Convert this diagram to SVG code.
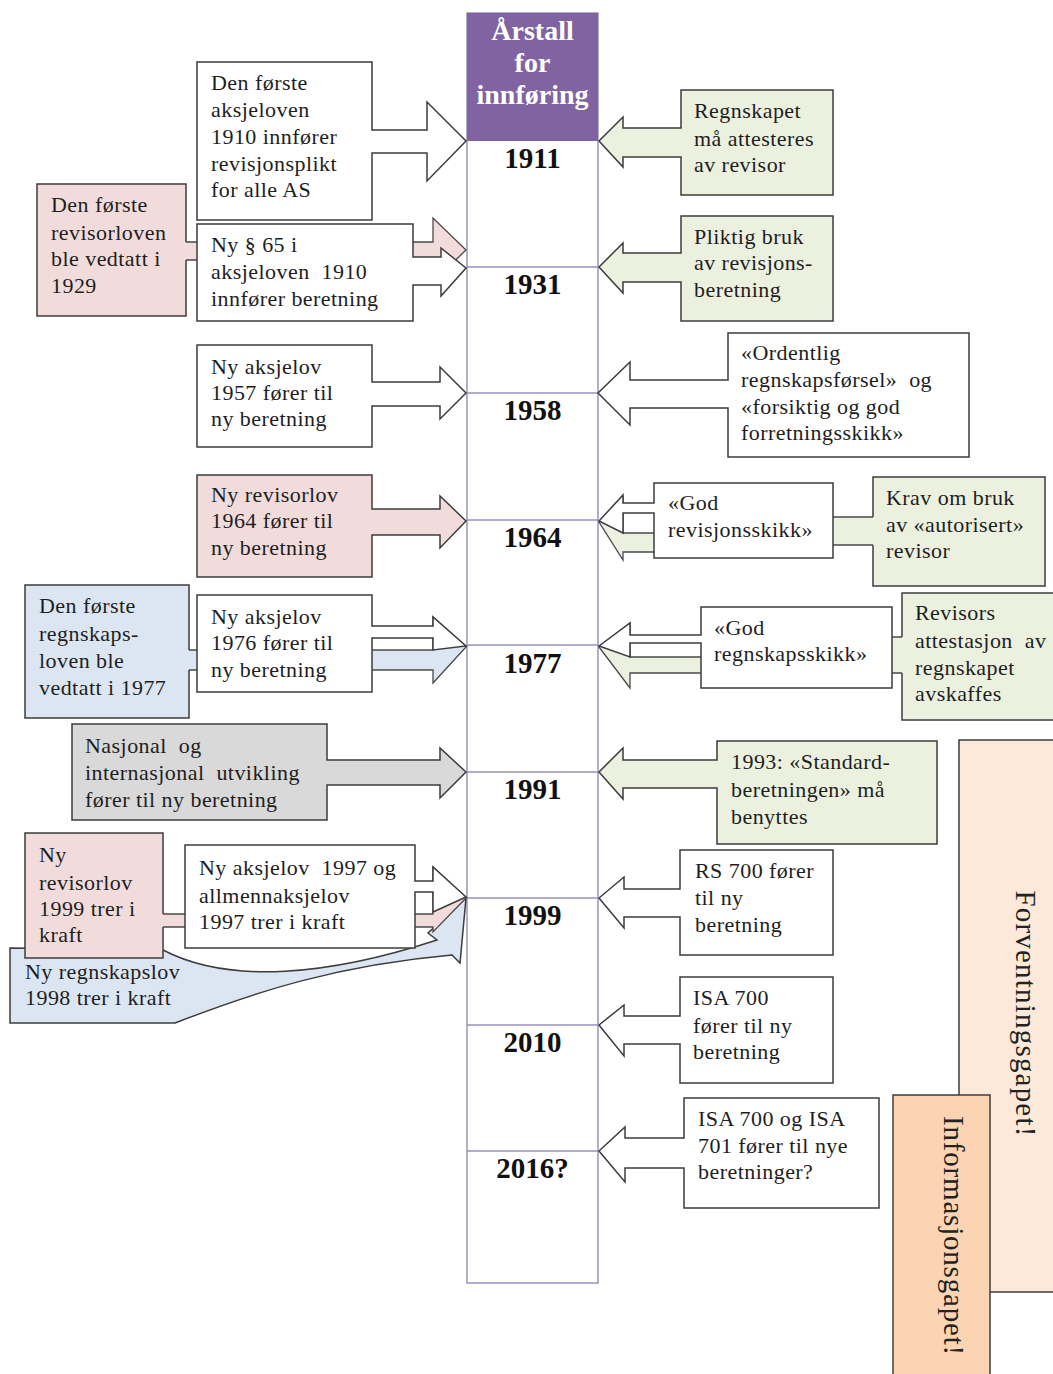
<svg xmlns="http://www.w3.org/2000/svg" width="1053" height="1374" viewBox="0 0 1053 1374">
<style>
text{font-family:"Liberation Serif","Times New Roman",serif;}
.t{font-size:22px;letter-spacing:0.45px;fill:#1e1e1e;}
.yr{font-size:29px;font-weight:bold;fill:#111;text-anchor:middle;}
.hd{font-size:28px;font-weight:bold;fill:#ffffff;text-anchor:middle;}
.big{font-size:29px;fill:#222;}
.box{stroke:#3c3c3c;stroke-width:1.5;}
.af{stroke:none;}
.as{fill:none;stroke:#4a4a4a;stroke-width:1.3;}
.w{fill:#ffffff;}
.g{fill:#ebf1de;}
.p{fill:#f2dcdb;}
.b{fill:#dce6f2;}
.gr{fill:#d9d9d9;}
.div{stroke:#9a8fbc;stroke-width:1.3;}
</style>

<!-- Timeline -->
<g id="timeline">
<rect x="467" y="13" width="131" height="1270" fill="#ffffff" stroke="#948ab6" stroke-width="1.4"/>
<rect x="467" y="13" width="131" height="128" fill="#8064a2"/>
<text class="hd" x="532.5" y="40">Årstall</text>
<text class="hd" x="532.5" y="72">for</text>
<text class="hd" x="532.5" y="104">innføring</text>
<line class="div" x1="467" y1="267" x2="598" y2="267"/>
<line class="div" x1="467" y1="393" x2="598" y2="393"/>
<line class="div" x1="467" y1="520" x2="598" y2="520"/>
<line class="div" x1="467" y1="645" x2="598" y2="645"/>
<line class="div" x1="467" y1="772" x2="598" y2="772"/>
<line class="div" x1="467" y1="898" x2="598" y2="898"/>
<line class="div" x1="467" y1="1025" x2="598" y2="1025"/>
<line class="div" x1="467" y1="1151" x2="598" y2="1151"/>
<text class="yr" x="532.5" y="168">1911</text>
<text class="yr" x="532.5" y="294">1931</text>
<text class="yr" x="532.5" y="420">1958</text>
<text class="yr" x="532.5" y="547">1964</text>
<text class="yr" x="532.5" y="673">1977</text>
<text class="yr" x="532.5" y="799">1991</text>
<text class="yr" x="532.5" y="925">1999</text>
<text class="yr" x="532.5" y="1052">2010</text>
<text class="yr" x="532.5" y="1178">2016?</text>
</g>

<!-- Gaps -->
<g id="forventningsgapet">
<rect class="box" x="959" y="740" width="100" height="552" fill="#fde9d9"/>
<text class="big" transform="translate(1016,1014) rotate(90)" text-anchor="middle" letter-spacing="1.2">Forventningsgapet!</text>
</g>
<g id="informasjonsgapet">
<rect class="box" x="893" y="1095" width="97" height="290" fill="#fbd4b4"/>
<text class="big" transform="translate(944,1236) rotate(90)" text-anchor="middle" letter-spacing="0.8">Informasjonsgapet!</text>
</g>

<!-- Left simple callouts -->
<g id="n1910">
<path class="box w" d="M197,62 H372 V130 H427 V102 L466,141 L427,181 V153 H372 V220 H197 Z"/>
<text class="t" x="211" y="90">Den første</text>
<text class="t" x="211" y="117">aksjeloven</text>
<text class="t" x="211" y="144">1910 innfører</text>
<text class="t" x="211" y="171">revisjonsplikt</text>
<text class="t" x="211" y="197">for alle AS</text>
</g>
<g id="n1957">
<path class="box w" d="M197,345 H372 V382 H440 V367 L466,393 L440,419 V406 H372 V447 H197 Z"/>
<text class="t" x="211" y="374">Ny aksjelov</text>
<text class="t" x="211" y="400">1957 fører til</text>
<text class="t" x="211" y="426">ny beretning</text>
</g>
<g id="n1964l">
<path class="box p" d="M197,475 H372 V509 H440 V496 L466,521 L440,548 V535 H372 V577 H197 Z"/>
<text class="t" x="211" y="502">Ny revisorlov</text>
<text class="t" x="211" y="528">1964 fører til</text>
<text class="t" x="211" y="555">ny beretning</text>
</g>
<g id="n1991l">
<path class="box gr" d="M72,724 H327 V760 H440 V748 L466,772 L440,798 V785 H327 V820 H72 Z"/>
<text class="t" x="85" y="753" xml:space="preserve">Nasjonal  og</text>
<text class="t" x="85" y="780" xml:space="preserve">internasjonal  utvikling</text>
<text class="t" x="85" y="807">fører til ny beretning</text>
</g>

<!-- Right simple callouts -->
<g id="n1911r">
<path class="box g" d="M681,90 H833 V195 H681 V157 H623 V167 L599,141 L623,117 V128 H681 Z"/>
<text class="t" x="694" y="118">Regnskapet</text>
<text class="t" x="694" y="146">må attesteres</text>
<text class="t" x="694" y="172">av revisor</text>
</g>
<g id="n1931r">
<path class="box g" d="M681,216 H833 V321 H681 V282 H623 V293 L599,267 L623,243 V253 H681 Z"/>
<text class="t" x="694" y="244">Pliktig bruk</text>
<text class="t" x="694" y="270">av revisjons-</text>
<text class="t" x="694" y="297">beretning</text>
</g>
<g id="n1958r">
<path class="box w" d="M728,333 H969 V457 H728 V408 H630 V425 L598,393 L630,362 V380 H728 Z"/>
<text class="t" x="741" y="360">«Ordentlig</text>
<text class="t" x="741" y="387" xml:space="preserve">regnskapsførsel»  og</text>
<text class="t" x="741" y="414">«forsiktig og god</text>
<text class="t" x="741" y="440">forretningsskikk»</text>
</g>
<g id="n1991r">
<path class="box g" d="M717,741 H937 V844 H717 V788 H623 V799 L599,772 L623,748 V760 H717 Z"/>
<text class="t" x="731" y="769">1993: «Standard-</text>
<text class="t" x="731" y="797">beretningen» må</text>
<text class="t" x="731" y="824">benyttes</text>
</g>
<g id="n1999r">
<path class="box w" d="M680,850 H833 V955 H680 V917 H624 V928 L599,898 L624,877 V889 H680 Z"/>
<text class="t" x="695" y="878">RS 700 fører</text>
<text class="t" x="695" y="905">til ny</text>
<text class="t" x="695" y="932">beretning</text>
</g>
<g id="n2010r">
<path class="box w" d="M680,977 H833 V1083 H680 V1044 H624 V1056 L599,1025 L624,1005 V1016 H680 Z"/>
<text class="t" x="693" y="1005">ISA 700</text>
<text class="t" x="693" y="1033">fører til ny</text>
<text class="t" x="693" y="1059">beretning</text>
</g>
<g id="n2016r">
<path class="box w" d="M684,1098 H879 V1208 H684 V1168 H625 V1182 L599,1151 L625,1127 V1138 H684 Z"/>
<text class="t" x="698" y="1126">ISA 700 og ISA</text>
<text class="t" x="698" y="1153">701 fører til nye</text>
<text class="t" x="698" y="1179">beretninger?</text>
</g>

<!-- Curved blue callout -->
<g id="n1998">
<path class="box b" d="M10,948 L163,950 C230,985 330,975 437,940 L428,933 L466,898 L460,963 L452,955 C340,965 260,990 175,1023 L10,1023 Z"/>
<text class="t" x="25" y="979">Ny regnskapslov</text>
<text class="t" x="25" y="1005">1998 trer i kraft</text>
</g>

<!-- Coloured boxes behind which arrows pass -->
<g id="n1929">
<rect class="box p" x="37" y="184" width="149" height="132"/>
<text class="t" x="51" y="212">Den første</text>
<text class="t" x="51" y="240">revisorloven</text>
<text class="t" x="51" y="266">ble vedtatt i</text>
<text class="t" x="51" y="293">1929</text>
</g>
<g id="n1977l">
<rect class="box b" x="25" y="585" width="164" height="133"/>
<text class="t" x="39" y="613">Den første</text>
<text class="t" x="39" y="641">regnskaps-</text>
<text class="t" x="39" y="668">loven ble</text>
<text class="t" x="39" y="695">vedtatt i 1977</text>
</g>
<g id="n1964g">
<rect class="box g" x="873" y="477" width="172" height="109"/>
<text class="t" x="886" y="505">Krav om bruk</text>
<text class="t" x="886" y="532">av «autorisert»</text>
<text class="t" x="886" y="558">revisor</text>
</g>
<g id="n1977g">
<rect class="box g" x="902" y="593" width="160" height="127"/>
<text class="t" x="915" y="620">Revisors</text>
<text class="t" x="915" y="648" xml:space="preserve">attestasjon  av</text>
<text class="t" x="915" y="675">regnskapet</text>
<text class="t" x="915" y="701">avskaffes</text>
</g>
<g id="n1999p">
<rect class="box p" x="25" y="833" width="138" height="125"/>
<text class="t" x="39" y="862">Ny</text>
<text class="t" x="39" y="890">revisorlov</text>
<text class="t" x="39" y="916">1999 trer i</text>
<text class="t" x="39" y="942">kraft</text>
</g>

<!-- Connectors passing behind boxes -->
<g id="connectors">
<path class="af p" d="M184,242 H433 V218 L466,250 L433,282 V260 H184 Z"/>
<path class="as" d="M186,242 H433 V218 L466,250 L433,282 V260 H186"/>
<path class="af b" d="M187,650 H433 V617 L466,647 L433,683 V670 H187 Z"/>
<path class="as" d="M189,650 H433 V617 L466,647 L433,683 V670 H189"/>
<path class="af g" d="M875,517 H750 V533 H623 V497 L599,522 L623,560 V552 H750 V545 H875 Z"/>
<path class="as" d="M873,517 H750 V533 H623 V497 L599,522 L623,560 V552 H750 V545 H873"/>
<path class="af g" d="M904,637 H800 V657 H630 V623 L599,647 L630,688 V673 H904 Z"/>
<path class="as" d="M902,637 H800 V657 H630 V623 L599,647 L630,688 V673 H902"/>
<path class="af p" d="M161,914 H433 V867 L466,898 L433,932 V927 H161 Z"/>
<path class="as" d="M163,914 H433 V867 L466,898 L433,932 V927 H163"/>
</g>

<!-- White callouts drawn over the connectors -->
<g id="n1931l">
<path class="box w" d="M197,224 H413 V257 H441 V248 L466,268 L441,296 V285 H413 V321 H197 Z"/>
<text class="t" x="211" y="252">Ny § 65 i</text>
<text class="t" x="211" y="279" xml:space="preserve">aksjeloven  1910</text>
<text class="t" x="211" y="306">innfører beretning</text>
</g>
<g id="n1976">
<path class="box w" d="M197,595 H372 V626 H433 V617 L466,646 L433,650 V638 H372 V692 H197 Z"/>
<text class="t" x="211" y="624">Ny aksjelov</text>
<text class="t" x="211" y="650">1976 fører til</text>
<text class="t" x="211" y="677">ny beretning</text>
</g>
<g id="n1964w">
<path class="box w" d="M654,483 H833 V558 H654 V513 H623 V533 L599,521 L623,495 V503 H654 Z"/>
<text class="t" x="668" y="510">«God</text>
<text class="t" x="668" y="537">revisjonsskikk»</text>
</g>
<g id="n1977w">
<path class="box w" d="M701,607 H892 V688 H701 V643 H630 V657 L599,646 L630,623 V635 H701 Z"/>
<text class="t" x="714" y="635">«God</text>
<text class="t" x="714" y="661">regnskapsskikk»</text>
</g>
<g id="n1997">
<path class="box w" d="M185,845 H415 V881 H433 V867 L466,897 L433,912 V892 H415 V948 H185 Z"/>
<text class="t" x="199" y="875" xml:space="preserve">Ny aksjelov  1997 og</text>
<text class="t" x="199" y="903">allmennaksjelov</text>
<text class="t" x="199" y="929">1997 trer i kraft</text>
</g>
</svg>
